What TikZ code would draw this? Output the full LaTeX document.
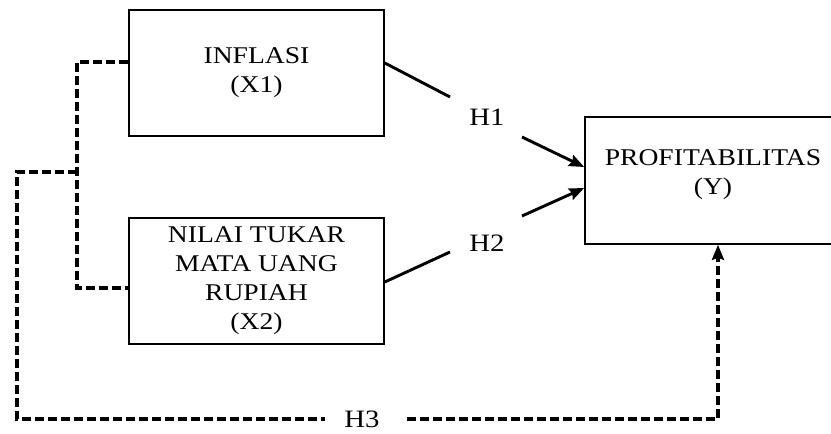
\documentclass[tikz,border=0pt]{standalone}
\usepackage{fontspec}
\setmainfont{Liberation Serif}[FakeStretch=1.15]
\usetikzlibrary{arrows.meta}
\newcommand\boxfont{\fontsize{24}{29}\selectfont}
\newcommand\lblfont{\fontsize{25}{30}\selectfont}
\begin{document}
\begin{tikzpicture}[x=1pt,y=-1pt,
  box/.style={draw, line width=1.6pt, minimum width=255pt, minimum height=126pt, inner sep=0pt, align=center, font=\boxfont},
  txt/.style={inner sep=0pt, align=center, font=\boxfont},
  lbl/.style={inner sep=0pt, font=\lblfont},
  solidln/.style={line width=2.9pt},
  dsh/.style={line width=3.2pt, dash pattern=on 9pt off 4pt},
  tip/.style={-{Stealth[length=15pt,width=12pt,inset=2pt]}}]
\useasboundingbox (0,0) rectangle (831,434);
\clip (0,0) rectangle (831,434);
\fill[white] (0,0) rectangle (831,434);

\node[box] (X1) at (256.5,73) {INFLASI\\(X1)};
\node[box] (X2) at (256.5,281) {NILAI TUKAR\\MATA UANG\\RUPIAH\\(X2)};
\node[box, minimum width=256pt, minimum height=127pt] (Y) at (713,180.5) {};
\node[txt] (Yt) at (713,175) {PROFITABILITAS\\(Y)};

\node[lbl] (H1) at (487,117) {H1};
\node[lbl] (H2) at (487,243) {H2};
\node[lbl] (H3) at (362,419) {H3};

\coordinate (h1a) at (450,97);
\coordinate (h1b) at (522,137);
\coordinate (h2a) at (450,252);
\coordinate (h2b) at (522,216);

\draw[solidln] ([yshift=10pt]X1.east) -- (h1a);
\draw[solidln, tip] (h1b) -- ([yshift=13.5pt]Y.west);
\draw[solidln] ([yshift=-1pt]X2.east) -- (h2a);
\draw[solidln, tip] (h2b) -- ([yshift=-7.5pt]Y.west);

\coordinate (j1) at (77,62);
\coordinate (j2) at (77,288);
\coordinate (j3) at (77,172);
\coordinate (k1) at (17,172);
\coordinate (k2) at (17,419);
\coordinate (k3) at (325,419);
\coordinate (k4) at (407,419);
\coordinate (k5) at (718,419);

\draw[dsh] ([yshift=11pt]X1.west) -- (j1) -- (j2) -- ([yshift=-7pt]X2.west);
\draw[dsh] (j3) -- (k1) -- (k2) -- (k3);
\draw[dsh, tip] (k4) -- (k5) -- ([xshift=5pt]Y.south);
\end{tikzpicture}
\end{document}
